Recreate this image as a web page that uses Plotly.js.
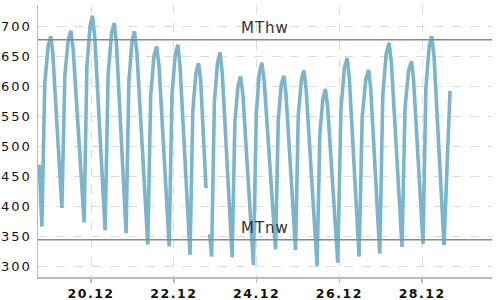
<!DOCTYPE html>
<html>
<head>
<meta charset="utf-8">
<script src="https://cdn.plot.ly/plotly-3.0.1.min.js"></script>
<style>
html,body{margin:0;padding:0;background:#fff;}
#chart{width:500px;height:300px;}
.ytick text{letter-spacing:2px;}
.xtick text{letter-spacing:1.5px;}
.annotation-text{letter-spacing:1px;}
</style>
</head>
<body>
<div id="chart"></div>
<script>
// Water level time series
var times = [
 '2023-12-18 18:00','2023-12-18 19:30','2023-12-18 21:10','2023-12-18 23:10',
 '2023-12-19 00:40','2023-12-19 01:50','2023-12-19 07:05','2023-12-19 08:50','2023-12-19 10:45',
 '2023-12-19 12:20','2023-12-19 13:40','2023-12-19 20:00','2023-12-19 21:35','2023-12-19 23:25',
 '2023-12-20 00:50','2023-12-20 02:10','2023-12-20 08:10','2023-12-20 09:55','2023-12-20 11:55',
 '2023-12-20 13:30','2023-12-20 14:45','2023-12-20 20:20','2023-12-20 21:55','2023-12-20 23:45',
 '2023-12-21 01:10','2023-12-21 02:35','2023-12-21 08:55','2023-12-21 10:35','2023-12-21 12:30',
 '2023-12-21 14:05','2023-12-21 15:25','2023-12-21 21:20','2023-12-21 22:55',
 '2023-12-22 00:50','2023-12-22 02:20','2023-12-22 03:35','2023-12-22 09:25','2023-12-22 11:00',
 '2023-12-22 12:50','2023-12-22 14:20','2023-12-22 15:35','2023-12-22 18:40','2023-12-22 19:15',
 '2023-12-22 19:55','2023-12-22 20:55','2023-12-22 21:55','2023-12-22 23:30',
 '2023-12-23 01:20','2023-12-23 02:50','2023-12-23 04:05','2023-12-23 09:50','2023-12-23 11:25',
 '2023-12-23 13:15','2023-12-23 14:40','2023-12-23 16:05','2023-12-23 22:10','2023-12-23 23:50',
 '2023-12-24 01:35','2023-12-24 03:00','2023-12-24 04:25','2023-12-24 11:00','2023-12-24 12:35',
 '2023-12-24 14:20','2023-12-24 15:50','2023-12-24 17:00','2023-12-24 22:35',
 '2023-12-25 00:10','2023-12-25 02:00','2023-12-25 03:25','2023-12-25 04:45','2023-12-25 11:05',
 '2023-12-25 12:40','2023-12-25 14:30','2023-12-25 15:55','2023-12-25 17:10','2023-12-25 23:05',
 '2023-12-26 00:55','2023-12-26 02:55','2023-12-26 04:30','2023-12-26 05:45','2023-12-26 11:25',
 '2023-12-26 13:15','2023-12-26 15:20','2023-12-26 17:00','2023-12-26 18:10','2023-12-26 23:25',
 '2023-12-27 01:10','2023-12-27 03:10','2023-12-27 04:50','2023-12-27 06:10','2023-12-27 12:20',
 '2023-12-27 14:05','2023-12-27 16:10','2023-12-27 17:50','2023-12-27 19:00',
 '2023-12-28 00:30','2023-12-28 02:10','2023-12-28 04:05','2023-12-28 05:35','2023-12-28 06:55',
 '2023-12-28 12:40','2023-12-28 16:10'
];
var levels = [
 469,366,604,667,
 683,654,397,618,677,
 692,660,373,631,700,
 717,681,360,619,688,
 705,670,355,607,674,
 691,656,336,584,650,
 666,633,333,585,
 652,669,634,319,558,
 622,638,608,430,null,
 350,350,316,571,
 639,656,622,315,541,
 601,616,585,302,555,
 622,639,608,328,545,
 603,617,588,327,
 551,611,626,593,300,
 521,580,595,566,306,
 562,630,647,614,316,
 549,611,627,596,321,
 584,654,672,638,332,
 564,626,641,611,
 337,597,666,683,648,
 335,592
];
var MThw = 677;
var MTnw = 344;
var refLabels = ['MThw','MTnw'];
var xRange = ['2023-12-18 17:15','2023-12-29 16:30'];
var yRange = [282, 735];

var trace = {
  x: times, y: levels, type: 'scatter', mode: 'lines',
  connectgaps: false,
  line: {color: '#7ab5cc', width: 3.6, shape: 'linear'},
  hoverinfo: 'skip'
};

var layout = {
  width: 500, height: 300,
  margin: {l: 38, r: 8, t: 5, b: 23},
  paper_bgcolor: '#fff', plot_bgcolor: '#fff',
  showlegend: false,
  xaxis: {
    type: 'date', range: xRange,
    tick0: '2023-12-20', dtick: 172800000, tickformat: '%d.%m',
    showgrid: true, gridcolor: '#dcdcdc', griddash: 'dash', gridwidth: 1,
    showline: true, linecolor: '#bbbbbb', linewidth: 1.5,
    ticks: 'outside', ticklen: 4, tickcolor: '#bbbbbb', tickwidth: 1.5,
    tickfont: {family: 'DejaVu Sans', size: 12.5, color: '#111', weight: 'bold'},
    zeroline: false, fixedrange: true
  },
  yaxis: {
    range: yRange, dtick: 50, tick0: 300,
    showgrid: true, gridcolor: '#dcdcdc', griddash: 'dash', gridwidth: 1,
    showline: true, linecolor: '#bbbbbb', linewidth: 1.5,
    ticks: '', ticklabelstandoff: 2,
    tickfont: {family: 'DejaVu Sans', size: 13, color: '#111'},
    zeroline: false, fixedrange: true
  },
  shapes: [
    {type: 'line', xref: 'paper', yref: 'y', x0: 0, x1: 1, y0: MThw, y1: MThw,
     line: {color: '#8a8a8a', width: 1.5}},
    {type: 'line', xref: 'paper', yref: 'y', x0: 0, x1: 1, y0: MTnw, y1: MTnw,
     line: {color: '#8a8a8a', width: 1.5}}
  ],
  annotations: [
    {xref: 'paper', yref: 'y', x: 0.5, y: MThw, text: refLabels[0], showarrow: false,
     xanchor: 'center', yanchor: 'bottom', yshift: 1,
     font: {family: 'DejaVu Sans', size: 15, color: '#333'}},
    {xref: 'paper', yref: 'y', x: 0.5, y: MTnw, text: refLabels[1], showarrow: false,
     xanchor: 'center', yanchor: 'bottom', yshift: 1,
     font: {family: 'DejaVu Sans', size: 15, color: '#333'}}
  ]
};

Plotly.newPlot('chart', [trace], layout, {staticPlot: true, displayModeBar: false});
</script>
</body>
</html>
